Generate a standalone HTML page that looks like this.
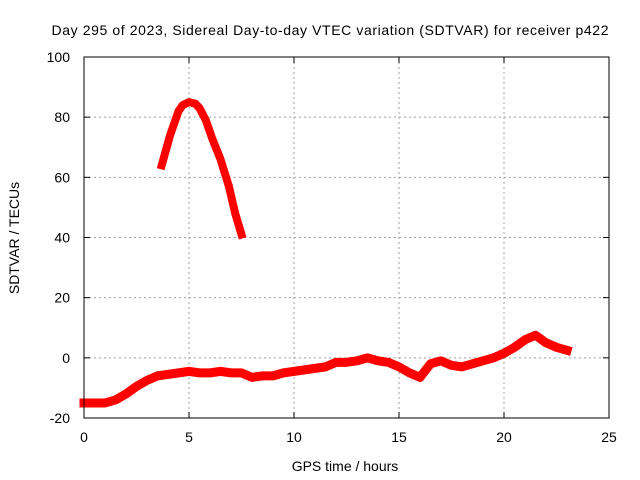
<!DOCTYPE html>
<html><head><meta charset="utf-8"><style>body{margin:0;background:#fff}svg{display:block;font-family:"Liberation Sans",sans-serif}</style></head>
<body>
<svg id="chart" width="640" height="480">
<rect width="640" height="480" fill="#fff"/>
<text x="330" y="35" font-size="14" text-anchor="middle" textLength="557">Day 295 of 2023, Sidereal Day-to-day VTEC variation (SDTVAR) for receiver p422</text>
<text x="345" y="471" font-size="14" text-anchor="middle">GPS time / hours</text>
<text transform="translate(19,238) rotate(-90)" font-size="14" text-anchor="middle">SDTVAR / TECUs</text>
<g id="grid"></g><g id="series"></g><g id="axes"></g>
</svg>
<script>
const xTicks=[0,5,10,15,20,25];
const yTicks=[-20,0,20,40,60,80,100];
const peakTimes=[3.7,3.9,4.1,4.3,4.5,4.7,5.0,5.3,5.5,5.8,6.1,6.5,6.9,7.2,7.5];
const peakValues=[64,69,74,78,82,84,85,84.5,83,79,73,66,57,48,41];
const baseTimes=[0,0.5,1,1.5,2,2.5,3,3.5,4,4.5,5,5.5,6,6.5,7,7.5,8,8.5,9,9.5,10,10.5,11,11.5,12,12.5,13,13.5,14,14.5,15,15.5,16,16.5,17,17.5,18,18.5,19,19.5,20,20.5,21,21.5,22,22.5,23];
const baseValues=[-15,-15,-15,-14,-12,-9.5,-7.5,-6,-5.5,-5,-4.5,-5,-5,-4.5,-5,-5,-6.5,-6,-6,-5,-4.5,-4,-3.5,-3,-1.5,-1.5,-1,0,-1,-1.5,-3,-5,-6.5,-2,-1,-2.5,-3,-2,-1,0,1.5,3.5,6,7.5,5,3.5,2.5];
const L=84,R=609,T=57,B=418;
const xs=v=>L+(v-0)/25*(R-L);
const ys=v=>B-(v+20)/120*(B-T);
const NS="http://www.w3.org/2000/svg";
function mk(tag,attrs,parent){const e=document.createElementNS(NS,tag);for(const k in attrs)e.setAttribute(k,attrs[k]);document.getElementById(parent).appendChild(e);return e;}
xTicks.forEach(t=>{
 const x=xs(t);
 if(t>0&&t<25){const g=mk('line',{x1:x,x2:x,y1:T,y2:B,stroke:'#a0a0a0','stroke-dasharray':'2,3'},'grid');
 
 }
 mk('line',{x1:x,x2:x,y1:B,y2:B-6,stroke:'#000'},'axes');
 mk('line',{x1:x,x2:x,y1:T,y2:T+6,stroke:'#000'},'axes');
 const tx=mk('text',{x:x,y:B+24,'font-size':14,'text-anchor':'middle'},'axes');tx.textContent=t;
 
 
});
yTicks.forEach(t=>{
 const y=ys(t);
 if(t>-20&&t<100){const g=mk('line',{x1:L,x2:R,y1:y,y2:y,stroke:'#a0a0a0','stroke-dasharray':'2,3'},'grid');
 
 }
 mk('line',{x1:L,x2:L+6,y1:y,y2:y,stroke:'#000'},'axes');
 mk('line',{x1:R,x2:R-6,y1:y,y2:y,stroke:'#000'},'axes');
 const tx=mk('text',{x:L-14,y:y+5,'font-size':14,'text-anchor':'end'},'axes');tx.textContent=t;
 
 
});
const fr=mk('rect',{x:L,y:T,width:R-L,height:B-T,fill:'none',stroke:'#000'},'axes');


function series(ts,vs,name,w){
 const pts=ts.map((t,i)=>xs(t)+','+ys(vs[i])).join(' ');
 const p=mk('polyline',{points:pts,fill:'none',stroke:'#f00','stroke-width':w,'stroke-linejoin':'round','stroke-linecap':'square'},'series');
 
 
}
series(peakTimes,peakValues,'peak-series',8);
series(baseTimes,baseValues,'baseline-series',9);
</script>
</body></html>
